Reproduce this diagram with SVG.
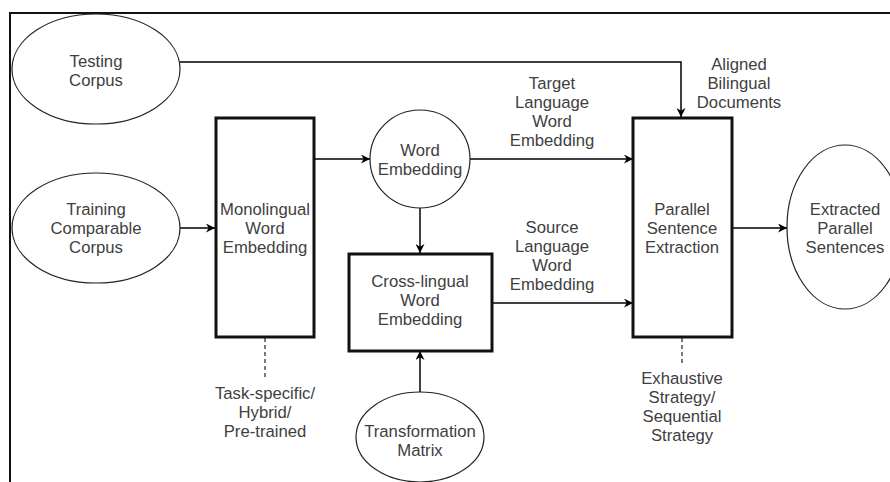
<svg xmlns="http://www.w3.org/2000/svg" width="890" height="482" viewBox="0 0 890 482">
  <defs>
    <marker id="arrow" viewBox="0 0 10 10" refX="10" refY="5" markerWidth="9" markerHeight="9" markerUnits="userSpaceOnUse" orient="auto">
      <path d="M0,0 L10,5 L0,10 L3,5 Z" fill="#000"/>
    </marker>
  </defs>
  <style>
    .ell { fill: #fff; stroke: #222; stroke-width: 1.2; }
    .box { fill: #fff; stroke: #111; stroke-width: 3; }
    .lbl { font-family: "Liberation Sans", Arial, sans-serif; font-size: 16.7px; fill: #404040; text-anchor: middle; }
    .edge { fill: none; stroke: #000; stroke-width: 1.5; }
    .dash { fill: none; stroke: #222; stroke-width: 1.2; stroke-dasharray: 4 3; }
  </style>
  <rect x="0" y="0" width="890" height="482" fill="#fff"/>
  <!-- frame -->
  <path d="M10,482 V13 H890" fill="none" stroke="#111" stroke-width="2"/>

  <g id="connectors">
    <path class="edge" d="M180,62 H681 V117" marker-end="url(#arrow)"/>
    <path class="edge" d="M180,228 H215" marker-end="url(#arrow)"/>
    <path class="edge" d="M314,159 H370" marker-end="url(#arrow)"/>
    <path class="edge" d="M420,208 V253" marker-end="url(#arrow)"/>
    <path class="edge" d="M420,392 V351" marker-end="url(#arrow)"/>
    <path class="edge" d="M470,159 H633" marker-end="url(#arrow)"/>
    <path class="edge" d="M492,303 H633" marker-end="url(#arrow)"/>
    <path class="edge" d="M733,228 H787" marker-end="url(#arrow)"/>
    <path class="dash" d="M265,338 V378"/>
    <path class="dash" d="M682,338 V365"/>
  </g>

  <g id="testing-corpus">
    <ellipse class="ell" cx="96" cy="69" rx="84" ry="55"/>
    <text class="lbl" x="96" y="67">Testing</text>
    <text class="lbl" x="96" y="86">Corpus</text>
  </g>

  <g id="training-corpus">
    <ellipse class="ell" cx="96" cy="228" rx="84" ry="55"/>
    <text class="lbl" x="96" y="215">Training</text>
    <text class="lbl" x="96" y="234">Comparable</text>
    <text class="lbl" x="96" y="253">Corpus</text>
  </g>

  <g id="monolingual">
    <rect class="box" x="216" y="118" width="98" height="219"/>
    <text class="lbl" x="265" y="215">Monolingual</text>
    <text class="lbl" x="265" y="234">Word</text>
    <text class="lbl" x="265" y="253">Embedding</text>
  </g>

  <g id="monolingual-note">
    <text class="lbl" x="265" y="399">Task-specific/</text>
    <text class="lbl" x="265" y="418">Hybrid/</text>
    <text class="lbl" x="265" y="437">Pre-trained</text>
  </g>

  <g id="word-embedding">
    <ellipse class="ell" cx="420" cy="159" rx="50" ry="49"/>
    <text class="lbl" x="420" y="156">Word</text>
    <text class="lbl" x="420" y="175">Embedding</text>
  </g>

  <g id="cross-lingual">
    <rect class="box" x="349" y="254" width="143" height="97"/>
    <text class="lbl" x="420" y="287">Cross-lingual</text>
    <text class="lbl" x="420" y="306">Word</text>
    <text class="lbl" x="420" y="325">Embedding</text>
  </g>

  <g id="transformation-matrix">
    <ellipse class="ell" cx="420" cy="437" rx="64" ry="45"/>
    <text class="lbl" x="420" y="437">Transformation</text>
    <text class="lbl" x="420" y="456">Matrix</text>
  </g>

  <g id="target-label">
    <text class="lbl" x="552" y="89">Target</text>
    <text class="lbl" x="552" y="108">Language</text>
    <text class="lbl" x="552" y="127">Word</text>
    <text class="lbl" x="552" y="146">Embedding</text>
  </g>

  <g id="source-label">
    <text class="lbl" x="552" y="233">Source</text>
    <text class="lbl" x="552" y="252">Language</text>
    <text class="lbl" x="552" y="271">Word</text>
    <text class="lbl" x="552" y="290">Embedding</text>
  </g>

  <g id="aligned-label">
    <text class="lbl" x="739" y="70">Aligned</text>
    <text class="lbl" x="739" y="89">Bilingual</text>
    <text class="lbl" x="739" y="108">Documents</text>
  </g>

  <g id="parallel-extraction">
    <rect class="box" x="633" y="118" width="99" height="219"/>
    <text class="lbl" x="682" y="215">Parallel</text>
    <text class="lbl" x="682" y="234">Sentence</text>
    <text class="lbl" x="682" y="253">Extraction</text>
  </g>

  <g id="extraction-note">
    <text class="lbl" x="682" y="384">Exhaustive</text>
    <text class="lbl" x="682" y="403">Strategy/</text>
    <text class="lbl" x="682" y="422">Sequential</text>
    <text class="lbl" x="682" y="441">Strategy</text>
  </g>

  <g id="extracted-sentences">
    <ellipse class="ell" cx="845" cy="227" rx="58" ry="82"/>
    <text class="lbl" x="845" y="215">Extracted</text>
    <text class="lbl" x="845" y="234">Parallel</text>
    <text class="lbl" x="845" y="253">Sentences</text>
  </g>
</svg>
